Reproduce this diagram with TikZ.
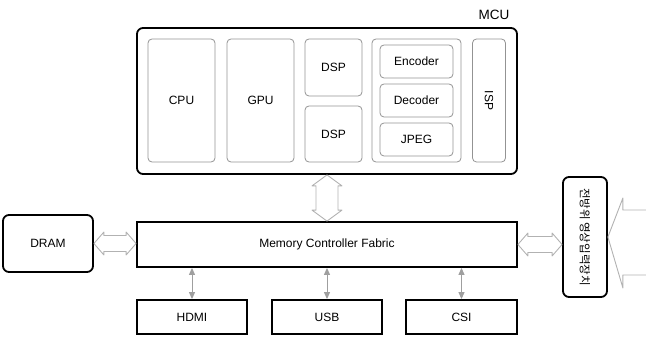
\documentclass[tikz,border=0pt]{standalone}
\usepackage{fontspec}
\setmainfont{Liberation Sans}
\newfontfamily\kfont{Noto Sans CJK KR}
\usetikzlibrary{arrows.meta,calc}

\begin{document}
\begin{tikzpicture}[x=1pt,y=-1pt,line width=1.8pt,>={Triangle[length=7pt,width=6pt]},
  txt/.style={font=\fontsize{12}{14}\selectfont},
  caja/.style={txt,draw,rounded corners=6pt,inner sep=0pt},
  bloque/.style={txt,draw=gray!85,line width=0.8pt,rounded corners=4pt,inner sep=0pt},
  bus/.style={txt,draw,inner sep=0pt},
  hueco/.style={draw=gray!60,line width=0.9pt,line join=round},
  enlace/.style={<->,draw=gray!75,line width=1pt}]
  \useasboundingbox (0,0) rectangle (646,337);
  % MCU
  \node[caja,minimum width=380pt,minimum height=146pt] (mcu) at (327,101) {};
  \node[font=\fontsize{13.5}{15}\selectfont] (mcutxt) at (494,15) {MCU};
  \node[bloque,minimum width=67pt,minimum height=123pt] (cpu) at (181.5,100.5) {CPU};
  \node[bloque,minimum width=67pt,minimum height=123pt] (gpu) at (260.5,100.5) {GPU};
  \node[bloque,minimum width=57pt,minimum height=57pt] (dspa) at (333.5,67.5) {DSP};
  \node[bloque,minimum width=57pt,minimum height=56pt] (dspb) at (333.5,134) {DSP};
  % codec
  \node[bloque,minimum width=89pt,minimum height=123pt] (codec) at (416.5,100.5) {};
  \node[bloque,minimum width=73pt,minimum height=33pt] (enc) at (416.5,61.5) {Encoder};
  \node[bloque,minimum width=73pt,minimum height=33pt] (dec) at (416.5,100.5) {Decoder};
  \node[bloque,minimum width=73pt,minimum height=33pt] (jpeg) at (416.5,139.5) {JPEG};
  \node[bloque,minimum width=33pt,minimum height=123pt] (isp) at (489,100.5) {\rotatebox{-90}{ISP}};
  % memoria y perifericos
  \node[caja,minimum width=90pt,minimum height=57pt] (dram) at (48,243.5) {DRAM};
  \node[bus,minimum width=380pt,minimum height=45pt] (mcf) at (327,244.5) {Memory Controller Fabric};
  \node[bus,minimum width=110pt,minimum height=34pt] (hdmi) at (192,317) {HDMI};
  \node[bus,minimum width=110pt,minimum height=34pt] (usb) at (327,317) {USB};
  \node[bus,minimum width=111pt,minimum height=34pt] (csi) at (461.5,317) {CSI};
  % entrada de video
  \node[caja,minimum width=44pt,minimum height=120pt] (cam) at (585,237)
    {\rotatebox{-90}{\kfont\fontsize{11.5}{13}\selectfont 전방위 영상입력장치}};
  % flechas huecas
  \draw[hueco] let \p1=(mcu.south), \p2=(mcf.north) in
    (\p1) -- ++(-15pt,-11pt) -- ++(4pt,0pt) -- (\x1-11pt,\y2+11pt) -- ++(-4pt,0pt) -- (\p2)
    -- ++(15pt,11pt) -- ++(-4pt,0pt) -- (\x1+11pt,\y1-11pt) -- ++(4pt,0pt) -- cycle;
  \draw[hueco] let \p1=(dram.east), \p2=(mcf.west) in
    (\p1) -- ++(10pt,11.5pt) -- ++(0pt,-3.5pt) -- (\x2-10pt,\y1+8pt) -- ++(0pt,3.5pt) -- (\x2,\y1)
    -- ++(-10pt,-11.5pt) -- ++(0pt,3.5pt) -- (\x1+10pt,\y1-8pt) -- ++(0pt,-3.5pt) -- cycle;
  \draw[hueco] let \p1=(mcf.east), \p2=(cam.west) in
    (\p1) -- ++(10pt,11.5pt) -- ++(0pt,-3.5pt) -- (\x2-10pt,\y1+8pt) -- ++(0pt,3.5pt) -- (\x2,\y1)
    -- ++(-10pt,-11.5pt) -- ++(0pt,3.5pt) -- (\x1+10pt,\y1-8pt) -- ++(0pt,-3.5pt) -- cycle;
  \draw[hueco] (cam.east) ++(39pt,27pt) -- ++(-24pt,0pt) -- ++(0pt,12pt) -- (cam.east)
    -- ++(15pt,-51pt) -- ++(0pt,13pt) -- ++(24pt,0pt);
  % enlaces al bus
  \draw[enlace] (mcf.south -| hdmi.north) -- (hdmi.north);
  \draw[enlace] (mcf.south -| usb.north) -- (usb.north);
  \draw[enlace] (mcf.south -| csi.north) -- (csi.north);
\end{tikzpicture}
\end{document}
